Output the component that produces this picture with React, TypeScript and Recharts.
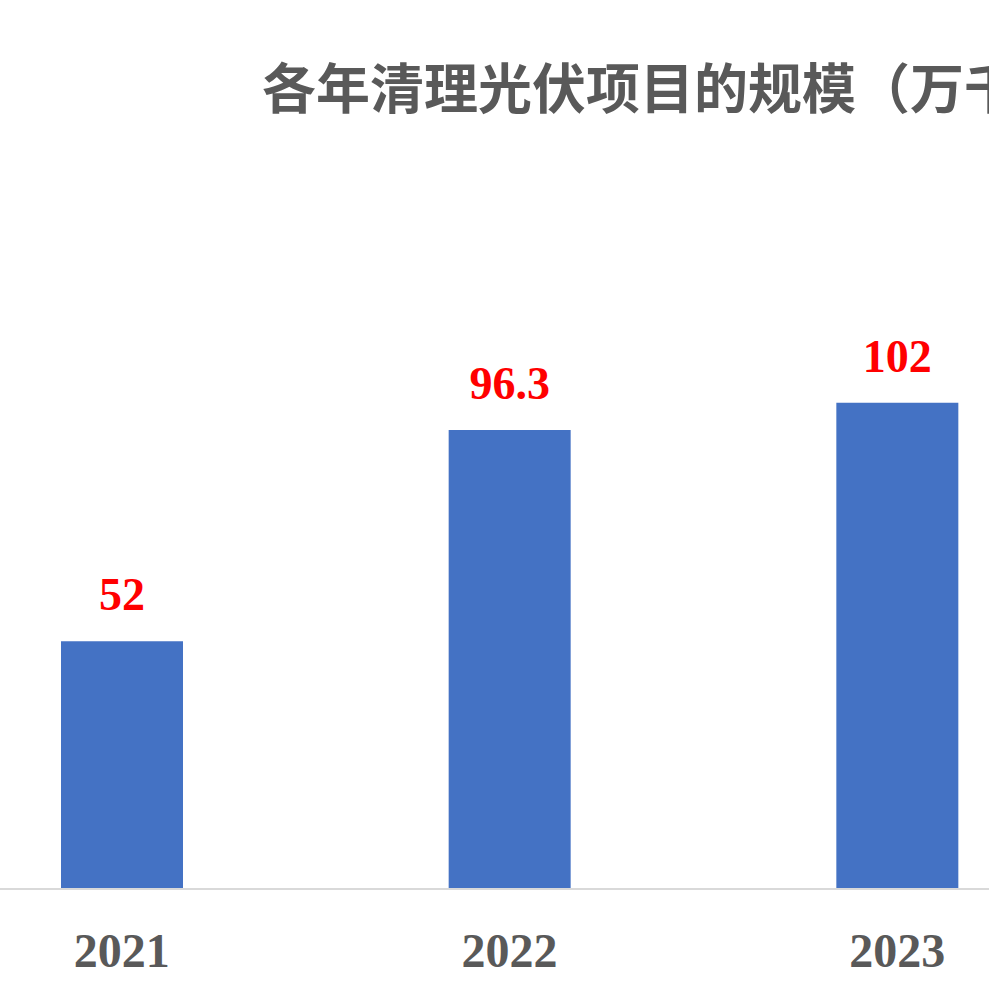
import { BarChart, Bar, XAxis, YAxis, LabelList } from "recharts";

const years = ["2021", "2022", "2023"];
const scale = [52, 96.3, 102];
const title = "各年清理光伏项目的规模（万千瓦）";

const data = years.map((year, i) => ({ year, scale: scale[i] }));

const App = () => {
  return (
    <div
      style={{
        position: "fixed",
        left: 0,
        top: 0,
        width: 989,
        height: 990,
        overflow: "hidden",
        background: "#ffffff",
      }}
    >
      <div
        style={{
          position: "absolute",
          left: 262,
          top: 59,
          fontFamily: "'Noto Sans CJK SC', sans-serif",
          fontWeight: 700,
          fontSize: 54,
          lineHeight: "54px",
          color: "#595959",
          whiteSpace: "nowrap",
        }}
      >
        {title}
      </div>
      <div style={{ position: "absolute", left: 0, top: 0 }}>
        <BarChart
          width={1091}
          height={990}
          data={data}
          margin={{ top: 317, right: 0, left: 0, bottom: 0 }}
        >
          <XAxis
            dataKey="year"
            height={101}
            padding={{ left: -72, right: 0 }}
            axisLine={{ stroke: "#d9d9d9", strokeWidth: 2 }}
            tickLine={false}
            tickMargin={38}
            tick={{
              fill: "#595959",
              fontSize: 48,
              fontWeight: 700,
              fontFamily: "'Liberation Serif', 'Times New Roman', serif",
            }}
          />
          <YAxis hide domain={[0, 120]} />
          <Bar
            dataKey="scale"
            fill="#4472C4"
            barSize={122}
            isAnimationActive={false}
          >
            <LabelList
              dataKey="scale"
              position="top"
              offset={31}
              fill="#ff0000"
              fontSize={46}
              fontWeight={700}
              fontFamily="'Liberation Serif', 'Times New Roman', serif"
            />
          </Bar>
        </BarChart>
      </div>
    </div>
  );
};

export default App;
